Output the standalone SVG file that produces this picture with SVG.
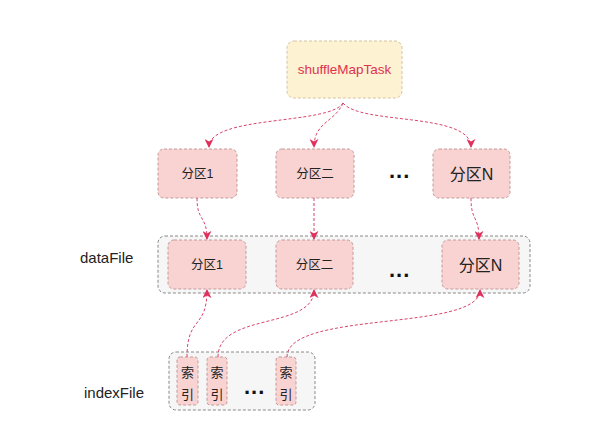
<svg xmlns="http://www.w3.org/2000/svg" width="604" height="431" viewBox="0 0 604 431">
<style>
.txt{font-family:"Liberation Sans","Noto Sans CJK SC",sans-serif;fill:#222;}
.part{fill:#f8d3d1;stroke:#c49a9a;stroke-width:1;stroke-dasharray:3 2;}
.cont{fill:#f6f6f6;stroke:#888;stroke-width:1;stroke-dasharray:3 2;}
.conn{fill:none;stroke:#d8456a;stroke-width:1;stroke-dasharray:3 2;}
.dots{font-family:"Liberation Sans",sans-serif;font-weight:bold;font-size:22px;fill:#111;letter-spacing:1px;}
</style>
<defs>
<marker id="arr" viewBox="0 0 10 10" refX="9" refY="5" markerWidth="9" markerHeight="9" markerUnits="userSpaceOnUse" orient="auto">
<path d="M0,0 L10,5 L0,10 L3,5 Z" fill="#e0305c"/>
</marker>
</defs>
<rect width="604" height="431" fill="#ffffff"/>

<g id="shuffleMapTask">
<rect x="287" y="41" width="115" height="57" rx="7" fill="#fdf2d2" stroke="#d8c39c" stroke-dasharray="3 2"/>
<text x="344.5" y="74" text-anchor="middle" font-family="Liberation Sans, sans-serif" font-size="13.5" fill="#e0324f">shuffleMapTask</text>
</g>

<g id="p1"><rect class="part" x="158" y="149" width="79" height="49" rx="6"/><text class="txt" x="197.5" y="178" text-anchor="middle" font-size="12.5">分区1</text></g>
<g id="p2"><rect class="part" x="276" y="149" width="78" height="49" rx="6"/><text class="txt" x="315" y="178" text-anchor="middle" font-size="12.5">分区二</text></g>
<text class="dots" x="389" y="178">...</text>
<g id="pN"><rect class="part" x="433" y="149" width="77" height="49" rx="6"/><text class="txt" x="471.5" y="180" text-anchor="middle" font-size="16">分区N</text></g>

<g id="dataFile">
<text class="txt" x="80" y="263" font-size="15">dataFile</text>
<rect class="cont" x="158" y="236" width="372" height="57" rx="7"/>
</g>
<g id="d1"><rect class="part" x="168" y="240" width="78" height="49" rx="6"/><text class="txt" x="207" y="269" text-anchor="middle" font-size="12.5">分区1</text></g>
<g id="d2"><rect class="part" x="276" y="240" width="77" height="49" rx="6"/><text class="txt" x="314.5" y="269" text-anchor="middle" font-size="12.5">分区二</text></g>
<text class="dots" x="389" y="277">...</text>
<g id="dN"><rect class="part" x="442" y="240" width="77" height="49" rx="6"/><text class="txt" x="480.5" y="271" text-anchor="middle" font-size="16">分区N</text></g>

<g id="indexFile">
<text class="txt" x="84" y="398" font-size="15">indexFile</text>
<rect class="cont" x="169" y="352" width="146" height="58" rx="7"/>
</g>
<g id="i1"><rect class="part" x="177" y="357" width="21" height="48" rx="3"/><text class="txt" x="187.5" y="377" text-anchor="middle" font-size="13">索</text><text class="txt" x="187.5" y="399" text-anchor="middle" font-size="13">引</text></g>
<g id="i2"><rect class="part" x="207" y="357" width="20" height="48" rx="3"/><text class="txt" x="217" y="377" text-anchor="middle" font-size="13">索</text><text class="txt" x="217" y="399" text-anchor="middle" font-size="13">引</text></g>
<text class="dots" x="244" y="394">...</text>
<g id="i3"><rect class="part" x="276" y="357" width="20" height="48" rx="3"/><text class="txt" x="286" y="377" text-anchor="middle" font-size="13">索</text><text class="txt" x="286" y="399" text-anchor="middle" font-size="13">引</text></g>

<g id="connectors">
<path class="conn" marker-end="url(#arr)" d="M343,103 C330,125 209,115 209,147"/>
<path class="conn" marker-end="url(#arr)" d="M343,103 C335,122 314,122 314,147"/>
<path class="conn" marker-end="url(#arr)" d="M343,103 C360,125 471,112 471,147"/>
<path class="conn" marker-end="url(#arr)" d="M197,198 C197,222 207,215 207,239"/>
<path class="conn" marker-end="url(#arr)" d="M314,198 L314,239"/>
<path class="conn" marker-end="url(#arr)" d="M471,198 C471,222 479,215 479,239"/>
<path class="conn" marker-end="url(#arr)" d="M187,357 C187,315 207,330 207,290"/>
<path class="conn" marker-end="url(#arr)" d="M218,357 C218,312 314,330 314,290"/>
<path class="conn" marker-end="url(#arr)" d="M287,357 C287,310 480,332 480,290"/>
</g>
</svg>
